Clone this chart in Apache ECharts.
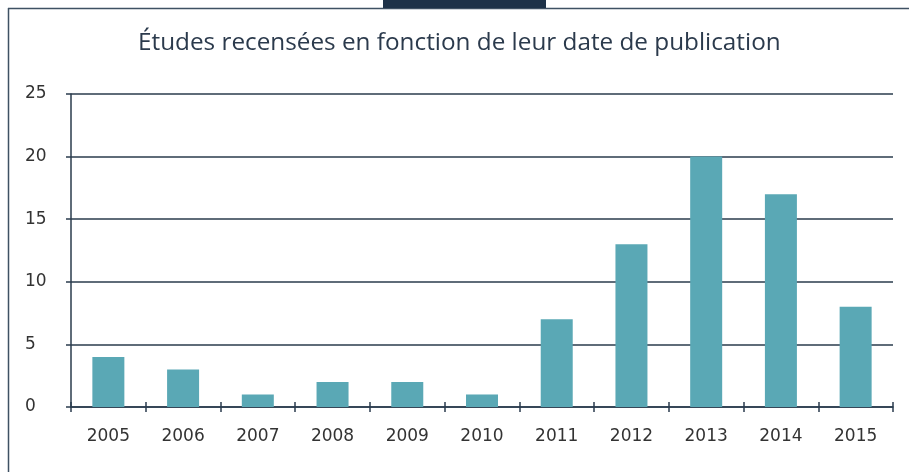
<!DOCTYPE html>
<html><head><meta charset="utf-8">
<script src="https://cdn.jsdelivr.net/npm/echarts@6/dist/echarts.min.js"></script>
<style>html,body{margin:0;padding:0;background:#fff}#c{width:909px;height:472px}</style>
</head><body><div id="c"></div>
<script>
var titleText = 'Études recensées en fonction de leur date de publication';
var categories = ['2005','2006','2007','2008','2009','2010','2011','2012','2013','2014','2015'];
var values = [4, 3, 1, 2, 2, 1, 7, 13, 20, 17, 8];
var yTicks = [0, 5, 10, 15, 20, 25];

var chart = echarts.init(document.getElementById('c'));
var dark = '#2a3b4d';
chart.setOption({
  animation: false,
  backgroundColor: '#fff',
  title: {
    text: titleText, left: 133, top: 26,
    textStyle: {fontFamily: 'Open Sans', fontWeight: 'normal', fontSize: 24.3, color: '#2b3a4c'}
  },
  grid: {left: 71, right: 16, top: 94, bottom: 65},
  xAxis: [{
    type: 'category', data: categories,
    axisLine: {lineStyle: {color: dark, width: 1.5}},
    axisTick: {show: true, length: 5, lineStyle: {color: dark, width: 1.5}},
    axisLabel: {fontFamily: 'DejaVu Sans', fontSize: 17, color: '#333', margin: 21}
  }, {
    type: 'category', data: categories, position: 'bottom',
    axisLine: {show: false},
    axisTick: {show: true, inside: true, length: 5, lineStyle: {color: dark, width: 1.5}},
    axisLabel: {show: false}
  }],
  yAxis: [{
    type: 'value', min: yTicks[0], max: yTicks[yTicks.length - 1], interval: 5,
    axisLine: {show: false},
    axisTick: {show: true, length: 5, lineStyle: {color: dark, width: 1.5}},
    splitLine: {lineStyle: {color: dark, width: 1.5}},
    axisLabel: {fontFamily: 'DejaVu Sans', fontSize: 17, color: '#333', align: 'left', margin: 46}
  }, {
    type: 'value', min: 0, max: 26, position: 'left',
    axisLine: {show: true, lineStyle: {color: dark, width: 1.5}},
    axisTick: {show: false}, axisLabel: {show: false}, splitLine: {show: false}
  }],
  series: [{
    type: 'bar', data: values, barWidth: 32,
    itemStyle: {color: '#5aa8b5'}, z: 1
  }],
  graphic: [
    {type: 'line', shape: {x1: 8.5, y1: 8, x2: 8.5, y2: 472}, style: {stroke: '#3f5163', lineWidth: 1.5}},
    {type: 'line', shape: {x1: 8, y1: 8.5, x2: 909, y2: 8.5}, style: {stroke: '#3f5163', lineWidth: 1.5}},
    {type: 'rect', shape: {x: 383, y: 0, width: 163, height: 8}, style: {fill: '#1e3248'}}
  ]
});
</script></body></html>
